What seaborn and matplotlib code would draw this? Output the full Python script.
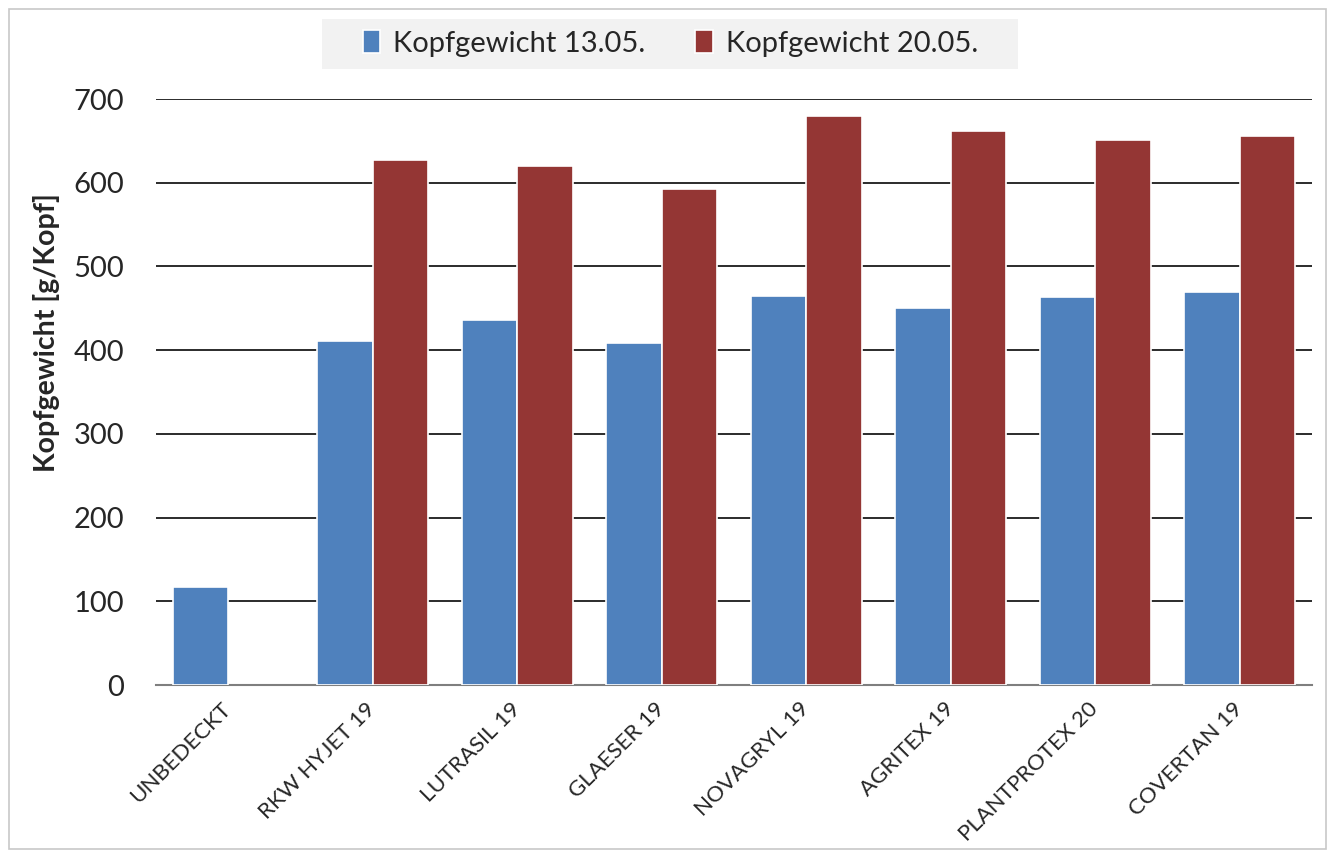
import numpy as np
import pandas as pd
import seaborn as sns
import matplotlib
matplotlib.use("Agg")
import matplotlib.pyplot as plt
from matplotlib.patches import Rectangle

categories = ["UNBEDECKT", "RKW HYJET 19", "LUTRASIL 19", "GLAESER 19",
              "NOVAGRYL 19", "AGRITEX 19", "PLANTPROTEX 20", "COVERTAN 19"]
gewicht_1305 = [117, 411, 436, 408, 465, 450, 463, 469]
gewicht_2005 = [np.nan, 627, 620, 593, 680, 662, 651, 656]
series = ["Kopfgewicht 13.05.", "Kopfgewicht 20.05."]
colors = ["#4F81BD", "#943634"]

df = pd.DataFrame({
    "Sorte": categories * 2,
    "Serie": [series[0]] * len(categories) + [series[1]] * len(categories),
    "Wert": gewicht_1305 + gewicht_2005,
})

sns.set_theme(style="white")
plt.rcParams["font.family"] = ["Lato", "DejaVu Sans"]

fig = plt.figure(figsize=(13.3, 8.52), dpi=100)
ax = fig.add_axes([0.1173, 0.196, 0.8692, 0.6878])

sns.barplot(data=df, x="Sorte", y="Wert", hue="Serie", palette=colors,
            width=0.77, edgecolor="white", linewidth=1.2, saturation=1,
            ax=ax, legend=True, zorder=3)

ax.set_ylim(0, 700)
ax.set_yticks(range(0, 701, 100))
ax.yaxis.grid(True, color="#1a1a1a", lw=1.3, zorder=0)
ax.set_axisbelow(True)
for s in ["top", "right", "left"]:
    ax.spines[s].set_visible(False)
ax.spines["bottom"].set_color("#7f7f7f")
ax.spines["bottom"].set_linewidth(1.5)
ax.tick_params(axis="y", labelsize=21, length=0, pad=23)
ax.tick_params(axis="x", labelsize=16, length=0, pad=15)
plt.setp(ax.get_xticklabels(), rotation=45, ha="right", va="center",
         rotation_mode="anchor")
ax.set_xlabel("")
ax.set_ylabel("Kopfgewicht [g/Kopf]", fontsize=20.5, fontweight="bold")
ax.yaxis.set_label_coords(-0.083, 0.601)

# legend background box
fig.patches.append(Rectangle((322 / 1330, 1 - 69 / 852), 696 / 1330, 50 / 852,
                             transform=fig.transFigure, facecolor="#F2F2F2",
                             edgecolor="none", zorder=0))
handles, labels = ax.get_legend_handles_labels()
ax.get_legend().remove()
fig.legend(handles, labels, loc="center", bbox_to_anchor=(0.504, 0.949),
           ncol=2, fontsize=21, frameon=False, handlelength=0.6,
           handleheight=0.85, handletextpad=0.45, columnspacing=1.7,
           borderaxespad=0)

fig.patches.append(Rectangle((0.007, 0.004), 0.99, 0.985, transform=fig.transFigure,
                             fill=False, edgecolor="#c8c8c8", lw=1.2))

fig.savefig("out.png", dpi=100)
